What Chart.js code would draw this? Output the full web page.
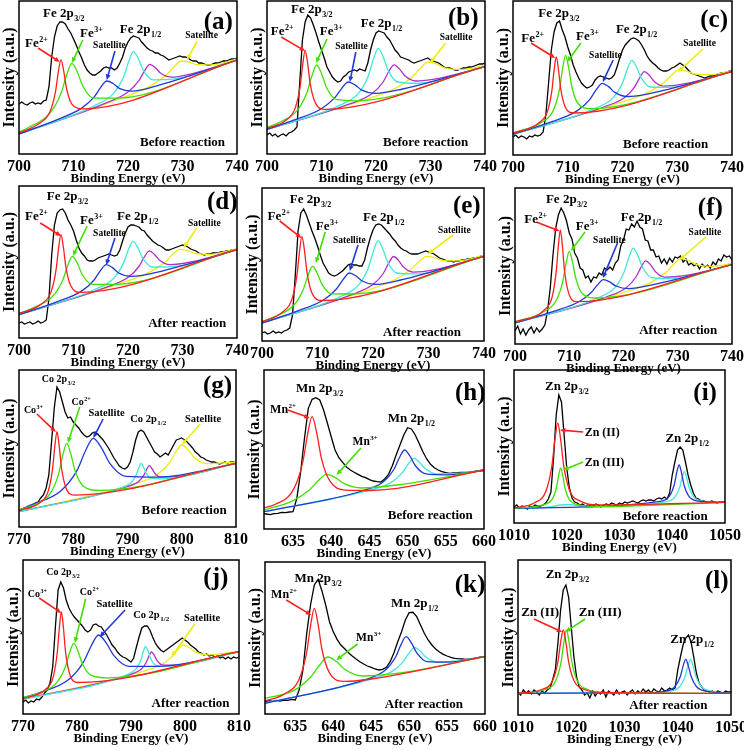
<!DOCTYPE html>
<html>
<head>
<meta charset="utf-8">
<script src="https://cdn.jsdelivr.net/npm/chart.js@4.4.1/dist/chart.umd.min.js"></script>
<style>
  body { margin: 0; background: #fff; width: 744px; height: 750px; position: relative; overflow: hidden; }
  canvas { position: absolute; }
</style>
</head>
<body>
<script>
// XPS spektri — 12 panelov (a)–(l), Chart.js

// ---- osi (tick labels) ----
const FE_TICKS = [700, 710, 720, 730, 740];
const CO_TICKS = [770, 780, 790, 800, 810];
const MN_TICKS = [635, 640, 645, 650, 655, 660];
const ZN_TICKS = [1010, 1020, 1030, 1040, 1050];

// ---- izmerjeni spektri (črni), korak 0.5 eV od začetne energije ----
const A_EXP = [50,52,50,49,51,52,50,51,50,53, 54,67,97,117,128,132,132,130,125,121, 115,109,102,96,89,84,81,79,79,81, 83,86,87,86,86,84,86,91,97,106, 112,116,118,117,116,112,109,106,104,103, 101,101,99,98,96,94,95,96,97,98, 97,97,96,94,93,93,91,91,90,89, 89,90,91,91,92,93,93,94,95,95, 96];
const B_EXP = [19,21,18,20,17,19,20,18,21,22, 24,27,71,114,132,139,136,129,121,112, 104,96,87,82,77,74,72,73,77,79, 82,83,84,83,85,84,83,91,104,114, 121,123,122,121,117,114,109,104,101,97, 96,95,94,92,91,92,93,94,95,96, 94,93,92,91,89,87,86,86,85,84, 84,85,86,86,87,87,88,89,90,90, 91];
const C_EXP = [18,20,17,19,18,16,19,18,20,19, 20,23,40,72,105,123,132,134,125,118, 108,100,90,83,77,72,69,67,68,70, 75,78,79,78,77,76,77,80,88,97, 105,110,113,116,117,116,114,110,105,99, 95,92,90,87,85,84,84,85,87,88, 90,92,90,88,85,82,81,80,79,78, 77,78,79,79,80,81,82,82,83,84, 85];
const D_EXP = [15,16,14,15,16,14,15,17,15,16, 18,40,83,113,125,128,129,125,118,113, 107,98,90,85,82,78,77,77,78,80, 81,82,83,84,83,82,83,88,97,105, 111,113,113,112,111,108,107,103,100,97, 95,93,92,90,88,88,89,90,91,92, 93,92,91,89,88,87,85,84,83,84, 84,85,85,85,86,86,87,87,88,88, 88];
const E_EXP = [8,9,7,8,10,8,9,8,10,11, 13,26,66,110,128,132,126,118,110,103, 95,86,78,73,68,66,65,66,68,70, 73,76,77,76,76,75,75,81,93,103, 111,116,117,116,113,110,107,103,100,96, 93,91,90,88,87,87,87,88,89,90, 89,88,87,85,83,82,81,80,80,79, 80,80,81,81,82,82,83,83,84,85, 85];
const F_EXP = [13,18,10,15,9,14,17,11,16,12, 15,19,33,56,89,116,129,136,131,123, 111,105,91,86,76,74,66,68,62,67, 66,71,69,76,74,77,74,81,84,98, 104,115,114,120,117,123,117,115,104,103, 94,94,87,88,81,85,80,86,82,87, 86,88,82,85,79,81,78,80,75,80, 77,79,76,82,79,85,83,89,87,88, 84];
const G_EXP = [17,18,19,18,20,21,24,25,29,32, 39,52,85,119,140,135,125,115,109,110, 105,102,99,95,92,90,91,94,95,93, 90,87,83,79,74,69,65,61,59,58, 60,65,75,87,95,97,95,90,85,80, 75,73,70,72,74,72,77,82,87,88, 89,87,85,82,79,75,73,70,69,67, 66,65,65,64,63,64,65,64,65,65, 64];
const H_EXP = [15.7,15,14.3,15.3,15.7,16.7,16.3,17,17.3,30.7, 57.3,90.7,120.7,129.7,131.3,129,119,105.7,92.3,79, 71.3,66.7,62,59,56.7,54.7,52.7,51.3,49.3,48, 47.3,47,50,54.7,63.3,74,84,94,101.3,100, 94,85.7,77.3,70,64.7,61.3,59,57.3,56.3,55.7, 56,56.3,56.7,56.7,56.7,57,57.7,58,58.3];
const I_EXP = [16,18,15,17,16,14,17,16,18,17, 17,18,20,24,31,65,108,128,121,88, 55,35,25,21,20,18,19,17,18,17, 17,19,18,16,18,19,18,20,19,18, 20,19,21,20,21,22,21,20,22,23, 22,23,23,22,24,25,24,26,24,30, 48,61,73,76,73,61,48,38,30,25, 24,22,22,21,21,22,21,20,21,21, 21];
const J_EXP = [12,14,11,13,12,15,14,17,21,24, 31,47,87,124,132,126,114,106,101,97, 94,91,88,84,82,84,89,90,88,87, 83,79,74,69,66,62,59,57,56,54, 52,56,67,77,86,88,88,84,77,71, 67,64,62,64,66,68,70,72,74,76, 74,72,69,67,65,62,61,59,60,58, 59,57,58,56,57,55,57,55,57,56, 57];
const K_EXP = [12.3,13.3,12.7,13.7,13,14,13.7,14.7,14,24, 44,80.7,109,129,134.7,123.3,109,92.3,82.3,74.7, 69,65.3,61.3,58,55,52.3,50,48,46.7,45, 44,44.7,46.7,52.3,61.3,72.3,82.3,94,101.3,101.7, 97.3,89,80.7,74,69,65,62,59.7,58,56.7, 55.7,55.3,55,54.7,55,55.7,56.3,57,57.3];
const L_EXP = [23,20,25,22,24,21,25,23,20,24, 22,25,27,35,45,72,105,125,130,118, 88,58,38,28,25,20,22,17,24,19, 23,21,25,18,24,22,20,25,21,23, 24,20,23,25,21,24,22,26,23,25, 22,26,24,23,27,24,25,27,25,27, 45,58,70,77,80,73,58,42,32,28, 25,24,23,24,22,24,23,22,24,23, 23];

// ---- fitane komponente [E, intenziteta] ----
const A_RED = [[700,21],[703.7,30.4],[705.7,42.5],[706.7,62.4],[707.2,81.3],[707.7,94.2],[708.2,83.2],[708.7,66.1],[709.7,49.9],[711.7,45.2],[740,94]];
const A_GREEN = [[700,22],[701.7,26.3],[705.7,41.1],[707.7,60.6],[708.7,78.3],[709.7,90.7],[710.7,82],[711.7,68],[713.7,55.9],[717.7,55.9],[740,94]];
const A_BLUE = [[700,20],[706.9,34.2],[711.5,45.9],[713.8,57.1],[714.95,66.3],[716.1,73],[717.25,70.5],[718.4,65.6],[720.7,62.9],[725.3,68.2],[740,94]];
const A_CYAN = [[700,20],[713.8,48.1],[717.4,60.9],[719.2,77.2],[720.1,91.9],[721,102.3],[721.9,95.2],[722.8,83.9],[724.6,74.2],[728.2,74.8],[740,94]];
const A_MAGENTA = [[700,20],[716,51.1],[720,62.1],[722,73.4],[723,82.8],[724,89.7],[725,86.5],[726,80.8],[728,76.9],[732,80.7],[740,94]];
const A_YELLOW = [[700,20],[718.6,55.5],[724.2,68.4],[727,79],[728.4,86.8],[729.8,93],[731.2,92],[732.6,89.3],[735.4,89.1],[740,95]];

const B_RED = [[700,25.7],[703.4,33.4],[705.2,46.4],[706.1,68.2],[706.55,89.4],[707,103.7],[707.45,90.8],[707.9,71.1],[708.8,52.1],[710.6,44.7],[740,87.3]];
const B_GREEN = [[700,26.5],[701.9,30.7],[705.5,43.3],[707.3,61.1],[708.2,77.5],[709.1,89],[710,80.4],[710.9,66.8],[712.7,54.6],[716.3,53.2],[740,87.3]];
const B_BLUE = [[700,24.7],[704.9,33.8],[709.9,45],[712.4,56.1],[713.65,65.2],[714.9,72],[716.15,69.1],[717.4,63.9],[719.9,60.6],[724.9,65],[740,87.3]];
const B_CYAN = [[700,24.7],[713.2,48.3],[716.8,60.8],[718.6,78.3],[719.5,94.4],[720.4,105.6],[721.3,97.2],[722.2,83.9],[724,72],[727.6,70.7],[740,87.3]];
const B_MAGENTA = [[700,24.7],[715.3,50.3],[719.3,60.5],[721.3,72],[722.3,82],[723.3,89.2],[724.3,85.1],[725.3,78.3],[727.3,73],[731.3,75.4],[740,87.3]];
const B_YELLOW = [[700,24.7],[717.6,53.5],[723.6,65.8],[726.6,76.8],[728.1,85.4],[729.6,92],[731.1,90.1],[732.6,86.2],[735.6,84.6],[740,88.6]];

const C_RED = [[700,21.7],[704.7,32],[706.3,43.6],[707.1,64.3],[707.5,84.4],[707.9,98.1],[708.3,85.7],[708.7,66.8],[709.5,48.6],[711.1,42],[740,83.3]];
const C_GREEN = [[700,22],[705.2,32.6],[707.4,45.1],[708.5,66],[709.05,86.1],[709.6,99.7],[710.15,87.8],[710.7,69.5],[711.8,52],[714,46.4],[740,83.3]];
const C_BLUE = [[700,20.7],[707.1,33.3],[711.7,44.1],[714,55.4],[715.15,64.8],[716.3,71.7],[717.45,68.4],[718.6,62.6],[720.9,58.5],[725.5,62.1],[740,83.3]];
const C_CYAN = [[700,20.7],[714.9,46.4],[718.3,57.4],[720,72],[720.85,85.4],[721.7,94.7],[722.55,88],[723.4,77.4],[725.1,68],[728.5,67.7],[740,83.3]];
const C_MAGENTA = [[700,20.7],[716.8,48.5],[720.4,57.6],[722.2,67.9],[723.1,76.9],[724,83.3],[724.9,79.7],[725.8,73.6],[727.6,68.9],[731.2,71.1],[740,83.3]];
const C_YELLOW = [[700,20.7],[719.1,51.6],[724.7,62.7],[727.5,72.2],[728.9,79.5],[730.3,85.1],[731.7,83.9],[733.1,81],[735.9,80.3],[740,84.3]];

const D_RED = [[700,24.5],[704.1,34],[705.9,46.4],[706.8,68.1],[707.25,89.1],[707.7,103.3],[708.15,90.5],[708.6,71.1],[709.5,52.2],[711.3,45.6],[740,88.3]];
const D_GREEN = [[700,24.5],[702.6,30.1],[706.2,41.9],[708,57.6],[708.9,71.8],[709.8,81.7],[710.7,74.7],[711.6,63.5],[713.4,53.6],[717,53.5],[740,88.3]];
const D_BLUE = [[700,23.3],[706.8,35.8],[711.4,46.6],[713.7,57.5],[714.85,66.6],[716,73.3],[717.15,70.4],[718.3,65],[720.6,61.6],[725.2,65.6],[740,88.3]];
const D_CYAN = [[700,23.3],[713.7,48],[717.3,59.3],[719.1,74.1],[720,87.3],[720.9,96.7],[721.8,90.3],[722.7,79.9],[724.5,71],[728.1,71.4],[740,88.3]];
const D_MAGENTA = [[700,23.3],[716.3,51.3],[720.1,60.9],[722,71.5],[722.95,80.6],[723.9,87.1],[724.85,83.6],[725.8,77.7],[727.7,73.3],[731.5,76],[740,88.3]];
const D_YELLOW = [[700,23.3],[718.3,54.1],[723.9,65.6],[726.7,75.4],[728.1,82.9],[729.5,88.7],[730.9,87.4],[732.3,84.5],[735.1,83.7],[740,89.4]];

const E_RED = [[700,19],[703.6,28.5],[705.4,41.9],[706.3,65.9],[706.75,89.1],[707.2,104.7],[707.65,90.6],[708.1,68.9],[709,47.9],[710.8,40.5],[740,84.7]];
const E_GREEN = [[700,19.5],[702.3,24.3],[705.7,35.8],[707.4,51.1],[708.25,65],[709.1,74.7],[709.95,67.8],[710.8,56.8],[712.5,47.1],[715.9,47],[740,84.7]];
const E_BLUE = [[700,18],[706.55,30.3],[711.15,41.3],[713.45,52.3],[714.6,61.3],[715.75,68],[716.9,65.2],[718.05,60],[720.35,56.6],[724.95,61],[740,84.7]];
const E_CYAN = [[700,18],[714.1,44.4],[717.5,56.7],[719.2,73.8],[720.05,89.4],[720.9,100.3],[721.75,92.3],[722.6,79.5],[724.3,68],[727.7,67.1],[740,84.7]];
const E_MAGENTA = [[700,18],[716.5,47.1],[720.1,56.9],[721.9,68],[722.8,77.6],[723.7,84.5],[724.6,80.6],[725.5,74],[727.3,68.9],[730.9,71.1],[740,84.7]];
const E_YELLOW = [[700,18],[718.4,49.7],[724,61.5],[726.8,71.4],[728.2,78.9],[729.6,84.7],[731,83.6],[732.4,80.7],[735.2,80.2],[740,85.7]];

const F_RED = [[700,22],[705.35,33.7],[706.85,47.2],[707.6,72.6],[707.98,97.4],[708.35,114.2],[708.73,98.5],[709.1,74.8],[709.85,51.6],[711.35,42.4],[740,79.3]];
const F_GREEN = [[700,22],[705.2,32],[707.6,43.5],[708.8,62.3],[709.4,80.3],[710,92.6],[710.6,82.1],[711.2,65.8],[712.4,50.5],[714.8,46],[740,79.3]];
const F_BLUE = [[700,21],[707.1,32.6],[711.7,42],[714,51.2],[715.15,58.7],[716.3,64.3],[717.45,62.1],[718.6,58],[720.9,55.4],[725.5,59.4],[740,79.3]];
const F_CYAN = [[700,21],[715,45.5],[718.4,56.4],[720.1,71.8],[720.95,86],[721.8,95.8],[722.65,88.4],[723.5,76.8],[725.2,66.4],[728.6,65.3],[740,79.3]];
const F_MAGENTA = [[700,21],[716.9,47.2],[720.5,56.3],[722.3,67],[723.2,76.4],[724.1,83.1],[725,79.1],[725.9,72.3],[727.7,66.8],[731.3,68.3],[740,79.3]];
const F_YELLOW = [[700,21],[719.4,50.5],[725,61.4],[727.8,71.4],[729.2,79.4],[730.6,85.3],[732,83.5],[733.4,79.6],[736.2,77.7],[740,80.5]];

const G_RED = [[770,16.5],[773.8,24.2],[775.4,36.1],[776.2,58.6],[776.6,80.5],[777,95.3],[777.4,81.4],[777.8,60.5],[778.6,40],[780.2,31.9],[810,63.7]];
const G_GREEN = [[770,17],[772.8,22.2],[775.8,33.8],[777.3,53.1],[778.05,71.3],[778.8,83.7],[779.55,73.1],[780.3,56.7],[781.8,41.1],[784.8,36.7],[810,63.7]];
const G_BLUE = [[770,16],[771.7,20.8],[777.7,36],[780.7,56.6],[782.2,75.5],[783.7,88.7],[785.2,79.1],[786.7,63.9],[789.7,50.6],[795.7,49.8],[810,63.7]];
const G_CYAN = [[770,15.3],[788.9,39.5],[790.7,44.5],[791.6,51.9],[792.05,58.8],[792.5,63.5],[792.95,59.9],[793.4,54.1],[794.3,48.9],[796.1,48.2],[810,63.7]];
const G_MAGENTA = [[770,15.3],[790,40.5],[792,45.3],[793,51.6],[793.5,57.3],[794,61.3],[794.5,58.5],[795,54],[796,50.1],[798,50.1],[810,63.7]];
const G_YELLOW = [[770,15.3],[790.8,42.3],[795.4,52.2],[797.7,64],[798.85,74.5],[800,82],[801.15,77.3],[802.3,69.6],[804.6,63.3],[809.2,64.5],[810,64.5]];

const H_RED = [[631.2,21.3],[632.7,24.7],[635.1,40.1],[636.3,67.7],[636.9,94.4],[637.5,112.4],[638.1,96.1],[638.7,71.2],[639.9,47.1],[642.3,38.6],[645,38.5],[660,59]];
const H_GREEN = [[631.2,19],[634.8,27.7],[637.1,38.7],[638.25,47.9],[639.4,54.7],[640.55,51.3],[641.7,45.3],[644,41],[648.6,44],[660,59]];
const H_BLUE = [[631.2,17.3],[644,38],[646.8,46.9],[648.2,59.5],[648.9,71],[649.6,79],[650.3,73],[651,63.5],[652.4,55.1],[655.2,54.2],[660,59]];
const H_CYAN = [[631.2,17.3],[644.8,38.5],[647.8,46.4],[649.3,56.1],[650.05,64.6],[650.8,70.7],[651.55,66.8],[652.3,60.4],[653.8,55],[656.8,55.9],[660,59]];

const I_RED = [[1010,15],[1013.9,20.3],[1016.1,32.4],[1017.2,57.8],[1017.75,83.1],[1018.3,99.9],[1018.85,83.2],[1019.4,58.1],[1020.5,33.1],[1022.7,21.6],[1026,18],[1050,20.7]];
const I_GREEN = [[1010,14.7],[1015.65,18.3],[1017.25,23.8],[1018.05,35.5],[1018.45,47.2],[1018.85,55],[1019.25,47.2],[1019.65,35.5],[1020.45,23.8],[1022.05,18.3],[1026,16.5],[1050,20.7]];
const I_BLUE = [[1010,14.7],[1037.7,21.6],[1039.5,27.1],[1040.4,38.7],[1040.85,50.3],[1041.3,58],[1041.75,50.3],[1042.2,38.7],[1043.1,27.2],[1044.9,21.9],[1050,20.7]];
const I_CYAN = [[1010,14.7],[1016,15.6],[1020,18.5],[1024,16.3],[1038.7,21.1],[1040.5,25.8],[1041.4,35.4],[1041.85,45],[1042.3,51.3],[1042.75,45],[1043.2,35.5],[1044.1,26],[1045.9,21.7],[1050,20.7]];

const J_RED = [[770,15.5],[774.1,24.3],[775.6,37.2],[776.35,61.8],[776.73,85.9],[777.1,102.2],[777.48,86.8],[777.85,63.6],[778.6,40.8],[780.1,31.5],[810,62.3]];
const J_GREEN = [[770,16.5],[773,21],[776.2,31.1],[777.8,46.4],[778.6,60.7],[779.4,70.7],[780.2,62.6],[781,50.2],[782.6,38.7],[785.8,36.2],[810,62.3]];
const J_BLUE = [[770,16],[772.8,20.9],[778.4,34.2],[781.2,51.9],[782.6,67.8],[784,79],[785.4,71.2],[786.8,58.6],[789.6,47.6],[795.2,47.7],[810,62.3]];
const J_CYAN = [[770,14.7],[789.1,39],[790.9,44.8],[791.8,53.6],[792.25,62],[792.7,67.7],[793.15,63],[793.6,55.8],[794.5,49],[796.3,47.6],[810,62.3]];
const J_MAGENTA = [[770,14.7],[789.8,39.4],[791.8,44.4],[792.8,51.3],[793.3,57.6],[793.8,62],[794.3,58.8],[794.8,53.7],[795.8,49.2],[797.8,48.9],[810,62.3]];
const J_YELLOW = [[770,14.7],[790.9,40.6],[795.3,48.6],[797.5,56.9],[798.6,63.9],[799.7,69],[800.8,66.5],[801.9,62.1],[804.1,59.1],[808.5,61.6],[810,62.5]];

const K_RED = [[631,13],[633.5,19.8],[635.5,34.8],[636.5,61.8],[637,88],[637.5,105.7],[638,89.6],[638.5,65],[639.5,41.2],[641.5,32.6],[644.5,34.5],[660,57.3]];
const K_GREEN = [[631,15.7],[634.7,23.2],[637,36.8],[638.15,48.5],[639.3,57],[640.45,52.2],[641.6,44.2],[643.9,38],[648.5,40.8],[660,57.3]];
const K_BLUE = [[631,10.7],[644,33.8],[646.8,43.4],[648.2,56.7],[648.9,68.9],[649.6,77.3],[650.3,71.1],[651,61.2],[652.4,52.4],[655.2,51.8],[660,57.3]];
const K_CYAN = [[631,10.7],[644.7,34.2],[647.7,42.4],[649.2,52.1],[649.95,60.6],[650.7,66.7],[651.45,63],[652.2,56.9],[653.7,52],[656.7,53.4],[660,57.3]];

const L_RED = [[1010,21.7],[1014.5,25.5],[1016.5,34.4],[1017.5,53.4],[1018,72.3],[1018.5,85],[1019,72.3],[1019.5,53.4],[1020.5,34.4],[1022.5,25.5],[1026,22.5],[1050,21.7]];
const L_GREEN = [[1010,21.7],[1015.1,25.5],[1017.1,34.4],[1018.1,53.4],[1018.6,72.3],[1019.1,85],[1019.6,72.3],[1020.1,53.4],[1021.1,34.4],[1023.1,25.5],[1026.5,22.5],[1050,21.7]];
const L_BLUE = [[1010,21.7],[1034,22.3],[1037.5,23.7],[1039.5,28.5],[1040.5,38.7],[1041,48.9],[1041.5,55.7],[1042,48.9],[1042.5,38.7],[1043.5,28.5],[1045.5,23.7],[1050,22]];
const L_CYAN = [[1010,21.7],[1034,22.3],[1038.4,23.7],[1040.4,28.5],[1041.4,38.7],[1041.9,48.9],[1042.4,55.7],[1042.9,48.9],[1043.4,38.7],[1044.4,28.5],[1046.4,23.7],[1050,22]];

// ---- oznake (v podatkovnih koordinatah) ----
const A_NOTES = [
  { x: 704.4, y: 137, t: 'Fe 2p', sub: '3/2', size: 13 },
  { x: 718.5, y: 121, t: 'Fe 2p', sub: '1/2', size: 13 },
  { x: 701.1, y: 107, t: 'Fe', sup: '2+', size: 13, arrow: [703.5, 106, 707.5, 92], color: 'red' },
  { x: 711.2, y: 117, t: 'Fe', sup: '3+', size: 13, arrow: [711.7, 114, 709.7, 91], color: 'green' },
  { x: 713.6, y: 106, t: 'Satellite', size: 9.5, arrow: [717.6, 103, 716.1, 74], color: 'blue' },
  { x: 730.5, y: 116, t: 'Satellite', size: 9.5, arrow: [732.7, 113, 730.8, 94], color: 'yellow' },
  { x: 722.2, y: 8, t: 'Before reaction', size: 13 },
  { x: 733.9, y: 125, t: '(a)', size: 25 },
];
const B_NOTES = [
  { x: 704.4, y: 141, t: 'Fe 2p', sub: '3/2', size: 13 },
  { x: 717.2, y: 127, t: 'Fe 2p', sub: '1/2', size: 13 },
  { x: 700.7, y: 119, t: 'Fe', sup: '2+', size: 13, arrow: [702.6, 117, 707, 103], color: 'red' },
  { x: 709.7, y: 119, t: 'Fe', sup: '3+', size: 13, arrow: [711, 115, 709, 91], color: 'green' },
  { x: 712.5, y: 105, t: 'Satellite', size: 9.5, arrow: [716.3, 102, 715.2, 72], color: 'blue' },
  { x: 731.7, y: 114, t: 'Satellite', size: 9.5, arrow: [732.8, 111, 729.9, 91], color: 'yellow' },
  { x: 721.3, y: 8, t: 'Before reaction', size: 13 },
  { x: 733.2, y: 129, t: '(b)', size: 25 },
];
const C_NOTES = [
  { x: 704.6, y: 138, t: 'Fe 2p', sub: '3/2', size: 13 },
  { x: 718.8, y: 122, t: 'Fe 2p', sub: '1/2', size: 13 },
  { x: 701.5, y: 113, t: 'Fe', sup: '2+', size: 13, arrow: [703.3, 112, 707.7, 97], color: 'red' },
  { x: 711.5, y: 115, t: 'Fe', sup: '3+', size: 13, arrow: [712.4, 112, 709.9, 93], color: 'green' },
  { x: 713.9, y: 97, t: 'Satellite', size: 9.5, arrow: [718.3, 95, 716.4, 73], color: 'blue' },
  { x: 731.1, y: 109, t: 'Satellite', size: 9.5, arrow: [734.7, 106, 730.1, 83], color: 'yellow' },
  { x: 720.1, y: 7, t: 'Before reaction', size: 13 },
  { x: 734.2, y: 128, t: '(c)', size: 25 },
];
const D_NOTES = [
  { x: 705.1, y: 138, t: 'Fe 2p', sub: '3/2', size: 13 },
  { x: 718, y: 118, t: 'Fe 2p', sub: '1/2', size: 13 },
  { x: 701.1, y: 118, t: 'Fe', sup: '2+', size: 13, arrow: [703.9, 115, 707.7, 102], color: 'red' },
  { x: 711.2, y: 114, t: 'Fe', sup: '3+', size: 13, arrow: [712.5, 112, 709.9, 82], color: 'green' },
  { x: 713.6, y: 102, t: 'Satellite', size: 9.5, arrow: [717.6, 100, 716, 73], color: 'blue' },
  { x: 731, y: 112, t: 'Satellite', size: 9.5, arrow: [732.6, 110, 730.2, 90], color: 'yellow' },
  { x: 723.7, y: 11, t: 'After reaction', size: 13 },
  { x: 734.5, y: 129, t: '(d)', size: 25 },
];
const E_NOTES = [
  { x: 705, y: 138, t: 'Fe 2p', sub: '3/2', size: 13 },
  { x: 718.2, y: 120, t: 'Fe 2p', sub: '1/2', size: 13 },
  { x: 701, y: 121, t: 'Fe', sup: '2+', size: 13, arrow: [703.2, 120, 707.1, 103], color: 'red' },
  { x: 709.7, y: 111, t: 'Fe', sup: '3+', size: 13, arrow: [711.4, 109, 709.7, 78], color: 'green' },
  { x: 712.8, y: 98, t: 'Satellite', size: 9.5, arrow: [717.3, 96, 715.8, 70], color: 'blue' },
  { x: 731.7, y: 108, t: 'Satellite', size: 9.5, arrow: [734.4, 106, 729.9, 87], color: 'yellow' },
  { x: 721.8, y: 5, t: 'After reaction', size: 13 },
  { x: 734.4, y: 128, t: '(e)', size: 25 },
];
const F_NOTES = [
  { x: 705.7, y: 141, t: 'Fe 2p', sub: '3/2', size: 13 },
  { x: 719.5, y: 123, t: 'Fe 2p', sub: '1/2', size: 13 },
  { x: 701.7, y: 121, t: 'Fe', sup: '2+', size: 13, arrow: [703.9, 122, 708.2, 113], color: 'red' },
  { x: 711.2, y: 114, t: 'Fe', sup: '3+', size: 13, arrow: [712.9, 112, 710.3, 93], color: 'green' },
  { x: 714.4, y: 101, t: 'Satellite', size: 9.5, arrow: [718.9, 101, 716.2, 66], color: 'blue' },
  { x: 732, y: 109, t: 'Satellite', size: 9.5, arrow: [735.2, 107, 730.3, 84], color: 'yellow' },
  { x: 722.9, y: 10, t: 'After reaction', size: 13 },
  { x: 733.7, y: 129, t: '(f)', size: 25 },
];
const G_NOTES = [
  { x: 774.2, y: 145, t: 'Co 2p', sub: '3/2', size: 10 },
  { x: 790.5, y: 105, t: 'Co 2p', sub: '1/2', size: 10.5 },
  { x: 770.9, y: 114, t: 'Co', sup: '3+', size: 10, arrow: [773.3, 113, 776.8, 95], color: 'red' },
  { x: 779.7, y: 122, t: 'Co', sup: '2+', size: 10, arrow: [781.2, 120, 779, 84], color: 'green' },
  { x: 782.8, y: 111, t: 'Satellite', size: 10.5, arrow: [785.5, 108, 783.7, 89], color: 'blue' },
  { x: 800.6, y: 105, t: 'Satellite', size: 10.5, arrow: [803.4, 103, 800, 82], color: 'yellow' },
  { x: 792.6, y: 13, t: 'Before reaction', size: 13 },
  { x: 803.9, y: 134, t: '(g)', size: 25 },
];
const H_NOTES = [
  { x: 635.4, y: 137, t: 'Mn 2p', sub: '3/2', size: 13 },
  { x: 647.4, y: 107, t: 'Mn 2p', sub: '1/2', size: 13 },
  { x: 632, y: 116, t: 'Mn', sup: '2+', size: 12, arrow: [634.3, 119, 637.2, 111], color: 'red' },
  { x: 642.8, y: 84, t: 'Mn', sup: '3+', size: 11.5, arrow: [643.9, 81, 640.7, 54], color: 'green' },
  { x: 647.4, y: 10, t: 'Before reaction', size: 13 },
  { x: 656.2, y: 129, t: '(h)', size: 25 },
];
const I_NOTES = [
  { x: 1015.9, y: 133, t: 'Zn 2p', sub: '3/2', size: 13 },
  { x: 1038.7, y: 81, t: 'Zn 2p', sub: '1/2', size: 13 },
  { x: 1023.4, y: 87, t: 'Zn (II)', size: 12, arrow: [1023.1, 91, 1018.7, 93], color: 'red' },
  { x: 1023.4, y: 57, t: 'Zn (III)', size: 12, arrow: [1023.1, 61, 1019.3, 53], color: 'green' },
  { x: 1030.6, y: 3, t: 'Before reaction', size: 13 },
  { x: 1044, y: 123, t: '(i)', size: 25 },
];
const J_NOTES = [
  { x: 774.3, y: 139, t: 'Co 2p', sub: '3/2', size: 10 },
  { x: 790.4, y: 96, t: 'Co 2p', sub: '1/2', size: 10.5 },
  { x: 770.9, y: 117, t: 'Co', sup: '3+', size: 10, arrow: [773, 116, 777.1, 101], color: 'red' },
  { x: 780.5, y: 119, t: 'Co', sup: '2+', size: 10, arrow: [781.6, 115, 779.6, 71], color: 'green' },
  { x: 783.6, y: 107, t: 'Satellite', size: 10.5, arrow: [788.9, 104, 784.2, 77], color: 'blue' },
  { x: 799.8, y: 93, t: 'Satellite', size: 10.5, arrow: [801.8, 90, 797.5, 57], color: 'yellow' },
  { x: 793.8, y: 7, t: 'After reaction', size: 13 },
  { x: 803.4, y: 129, t: '(j)', size: 25 },
];
const K_NOTES = [
  { x: 634.9, y: 132, t: 'Mn 2p', sub: '3/2', size: 13 },
  { x: 647.6, y: 107, t: 'Mn 2p', sub: '1/2', size: 13 },
  { x: 631.8, y: 116, t: 'Mn', sup: '2+', size: 12, arrow: [633.8, 114, 637.1, 99], color: 'red' },
  { x: 643, y: 73, t: 'Mn', sup: '3+', size: 11.5, arrow: [643.2, 70, 640.4, 54], color: 'green' },
  { x: 646.8, y: 6, t: 'After reaction', size: 13 },
  { x: 656, y: 122, t: '(k)', size: 25 },
];
const L_NOTES = [
  { x: 1015.2, y: 137, t: 'Zn 2p', sub: '3/2', size: 13 },
  { x: 1038.6, y: 72, t: 'Zn 2p', sub: '1/2', size: 13 },
  { x: 1010.6, y: 99, t: 'Zn (II)', size: 13, arrow: [1013, 96, 1018.3, 83], color: 'red' },
  { x: 1021.4, y: 99, t: 'Zn (III)', size: 13, arrow: [1022.6, 96, 1018.9, 83], color: 'green' },
  { x: 1030.9, y: 6, t: 'After reaction', size: 13 },
  { x: 1045.1, y: 127, t: '(l)', size: 25 },
];

const FONT = "'Liberation Serif', 'Times New Roman', serif";
const COLORS = {
  exp: '#000000', red: '#ff1e1e', green: '#3ee000', blue: '#2038d8',
  cyan: '#3fe8d8', magenta: '#b030c8', yellow: '#ecec10',
};

// postavitev panelov: [levo, zgoraj, desno, spodaj] območja grafa v px
const PANELS = [
  { box: [19, 1, 237, 154],   range: [700, 740],     ticks: FE_TICKS, exp: A_EXP, start: 700,  fits: [A_RED, A_GREEN, A_BLUE, A_CYAN, A_MAGENTA, A_YELLOW], notes: A_NOTES },
  { box: [267, 1, 485, 154],  range: [700, 740],     ticks: FE_TICKS, exp: B_EXP, start: 700,  fits: [B_RED, B_GREEN, B_BLUE, B_CYAN, B_MAGENTA, B_YELLOW], notes: B_NOTES },
  { box: [513, 1, 732, 155],  range: [700, 740],     ticks: FE_TICKS, exp: C_EXP, start: 700,  fits: [C_RED, C_GREEN, C_BLUE, C_CYAN, C_MAGENTA, C_YELLOW], notes: C_NOTES },
  { box: [19, 186, 237, 338], range: [700, 740],     ticks: FE_TICKS, exp: D_EXP, start: 700,  fits: [D_RED, D_GREEN, D_BLUE, D_CYAN, D_MAGENTA, D_YELLOW], notes: D_NOTES },
  { box: [262, 188, 484, 341], range: [700, 740],    ticks: FE_TICKS, exp: E_EXP, start: 700,  fits: [E_RED, E_GREEN, E_BLUE, E_CYAN, E_MAGENTA, E_YELLOW], notes: E_NOTES },
  { box: [515, 188, 732, 344], range: [700, 740],    ticks: FE_TICKS, exp: F_EXP, start: 700,  fits: [F_RED, F_GREEN, F_BLUE, F_CYAN, F_MAGENTA, F_YELLOW], notes: F_NOTES },
  { box: [19, 370, 236, 527], range: [770, 810],     ticks: CO_TICKS, exp: G_EXP, start: 770,  fits: [G_RED, G_GREEN, G_BLUE, G_CYAN, G_MAGENTA, G_YELLOW], notes: G_NOTES },
  { box: [264, 370, 484, 529], range: [631.2, 660],  ticks: MN_TICKS, exp: H_EXP, start: 631,  fits: [H_RED, H_GREEN, H_BLUE, H_CYAN], notes: H_NOTES },
  { box: [514, 370, 728, 523], range: [1010, 1050],  ticks: ZN_TICKS, exp: I_EXP, start: 1010, fits: [I_RED, I_GREEN, I_BLUE, I_CYAN], notes: I_NOTES },
  { box: [23, 560, 239, 714], range: [770, 810],     ticks: CO_TICKS, exp: J_EXP, start: 770,  fits: [J_RED, J_GREEN, J_BLUE, J_CYAN, J_MAGENTA, J_YELLOW], notes: J_NOTES },
  { box: [265, 562, 485, 714], range: [631, 660],    ticks: MN_TICKS, exp: K_EXP, start: 631,  fits: [K_RED, K_GREEN, K_BLUE, K_CYAN], notes: K_NOTES },
  { box: [518, 560, 734, 715], range: [1010, 1050],  ticks: ZN_TICKS, exp: L_EXP, start: 1010, fits: [L_RED, L_GREEN, L_BLUE, L_CYAN], notes: L_NOTES },
];
const FIT_COLORS = ['red', 'green', 'blue', 'cyan', 'magenta', 'yellow'];

// okvir okoli območja grafa
const framePlugin = {
  id: 'frame',
  afterDraw(chart) {
    const { ctx, chartArea: a } = chart;
    ctx.save();
    ctx.strokeStyle = '#000';
    ctx.lineWidth = 1.5;
    ctx.strokeRect(a.left, a.top, a.right - a.left, a.bottom - a.top);
    ctx.restore();
  },
};

function drawArrow(ctx, x1, y1, x2, y2, color) {
  const ang = Math.atan2(y2 - y1, x2 - x1);
  const head = 6;
  ctx.strokeStyle = color;
  ctx.fillStyle = color;
  ctx.lineWidth = 1.6;
  ctx.beginPath();
  ctx.moveTo(x1, y1);
  ctx.lineTo(x2 - head * 0.7 * Math.cos(ang), y2 - head * 0.7 * Math.sin(ang));
  ctx.stroke();
  ctx.beginPath();
  ctx.moveTo(x2, y2);
  ctx.lineTo(x2 - head * Math.cos(ang - 0.42), y2 - head * Math.sin(ang - 0.42));
  ctx.lineTo(x2 - head * Math.cos(ang + 0.42), y2 - head * Math.sin(ang + 0.42));
  ctx.closePath();
  ctx.fill();
}

// oznake z nadpisi/podpisi in puščicami
function notesPlugin(notes) {
  return {
    id: 'notes',
    afterDatasetsDraw(chart) {
      const { ctx, scales: { x, y } } = chart;
      ctx.save();
      for (const n of notes) {
        if (n.arrow) {
          drawArrow(ctx,
            x.getPixelForValue(n.arrow[0]), y.getPixelForValue(n.arrow[1]),
            x.getPixelForValue(n.arrow[2]), y.getPixelForValue(n.arrow[3]),
            COLORS[n.color]);
        }
        const px = x.getPixelForValue(n.x);
        const py = y.getPixelForValue(n.y);
        ctx.font = `bold ${n.size}px ${FONT}`;
        ctx.fillStyle = '#000';
        ctx.textAlign = 'left';
        ctx.textBaseline = 'alphabetic';
        ctx.fillText(n.t, px, py);
        if (n.sub || n.sup) {
          const w = ctx.measureText(n.t).width;
          ctx.font = `bold ${Math.round(n.size * 0.62)}px ${FONT}`;
          ctx.fillText(n.sub || n.sup, px + w + 0.5, n.sub ? py + n.size * 0.28 : py - n.size * 0.42);
        }
      }
      ctx.restore();
    },
  };
}

function makePanel(p) {
  const [L, T, R, B] = p.box;
  const padL = 19, padR = 16, padT = 1, axisH = 36;
  const w = R - L + padL + padR;
  const h = B - T + padT + axisH;
  const canvas = document.createElement('canvas');
  canvas.width = w;
  canvas.height = h;
  canvas.style.left = (L - padL) + 'px';
  canvas.style.top = (T - padT) + 'px';
  canvas.style.width = w + 'px';
  canvas.style.height = h + 'px';
  document.body.appendChild(canvas);

  const datasets = p.fits.map((pts, i) => ({
    data: pts.map(([x, y]) => ({ x, y })),
    borderColor: COLORS[FIT_COLORS[i]],
    borderWidth: 1.3,
    pointRadius: 0,
    cubicInterpolationMode: 'monotone',
    fill: false,
    order: 0,
  }));
  datasets.push({
    data: p.exp.map((v, i) => ({ x: p.start + i * 0.5, y: v })),
    borderColor: COLORS.exp,
    borderWidth: 1.3,
    pointRadius: 0,
    tension: 0,
    fill: false,
    order: 1,
  });

  new Chart(canvas, {
    type: 'line',
    data: { datasets },
    plugins: [framePlugin, notesPlugin(p.notes)],
    options: {
      responsive: false,
      animation: false,
      devicePixelRatio: 1,
      layout: { padding: { left: 0, right: padR, top: padT, bottom: 0 } },
      plugins: { legend: { display: false }, tooltip: { enabled: false } },
      scales: {
        x: {
          type: 'linear',
          min: p.range[0],
          max: p.range[1],
          afterFit: (s) => { s.height = axisH; },
          afterBuildTicks: (s) => { s.ticks = p.ticks.map((v) => ({ value: v })); },
          grid: { display: false, drawTicks: false },
          border: { display: false },
          ticks: {
            color: '#000',
            font: { family: FONT, size: 16, weight: 'bold' },
            padding: 3,
            autoSkip: false,
            maxRotation: 0,
            includeBounds: false,
            callback: (v) => String(v),
          },
          title: {
            display: true,
            text: 'Binding Energy (eV)',
            color: '#000',
            font: { family: FONT, size: 13, weight: 'bold' },
            padding: { top: 0, bottom: 4 },
          },
        },
        y: {
          min: 0,
          max: B - T,
          afterFit: (s) => { s.width = padL; },
          ticks: { display: false },
          grid: { display: false },
          border: { display: false },
          title: {
            display: true,
            text: 'Intensity (a.u.)',
            color: '#000',
            font: { family: FONT, size: 16, weight: 'bold' },
            padding: { top: 0, bottom: 0 },
          },
        },
      },
    },
  });
}

PANELS.forEach(makePanel);
</script>
</body>
</html>
